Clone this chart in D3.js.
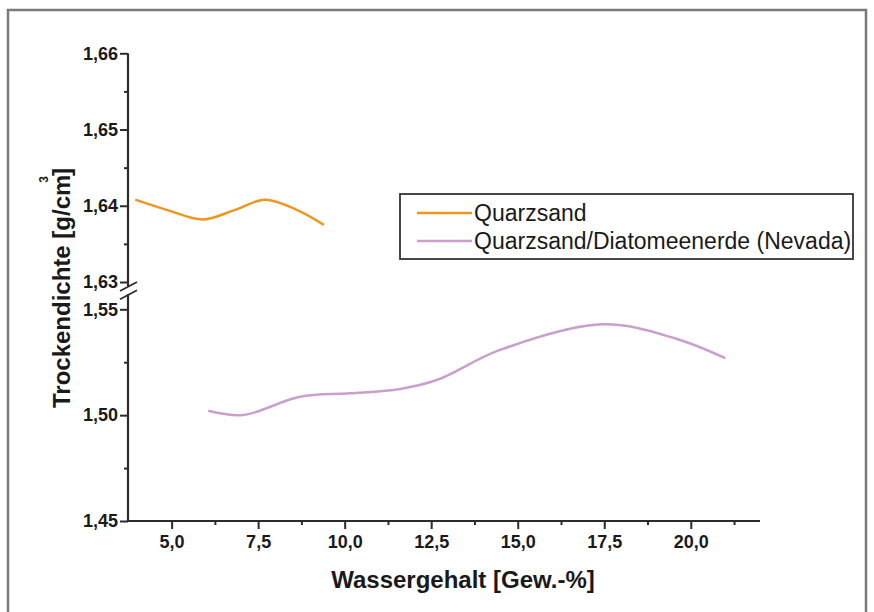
<!DOCTYPE html>
<html>
<head>
<meta charset="utf-8">
<script src="https://cdn.jsdelivr.net/npm/d3@7"></script>
<style>
  body { margin: 0; background: #fff; }
  text { font-family: "Liberation Sans", Arial, sans-serif; }
</style>
</head>
<body>
<div id="canvas"></div>
<script>
// values
var xMajor = [5, 7.5, 10, 12.5, 15, 17.5, 20];
var xMinor = [6.25, 8.75, 11.25, 13.75, 16.25, 18.75, 21.25];
var yTopMajor = [1.63, 1.64, 1.65, 1.66];
var yTopMinor = [1.635, 1.645, 1.655];
var yBotMajor = [1.45, 1.50, 1.55];
var yBotMinor = [1.475, 1.525];

var quarzX = [3.95, 4.9, 5.9, 6.8, 7.7, 8.6, 9.4];
var quarzY = [1.6408, 1.6394, 1.6382, 1.6394, 1.6408, 1.6395, 1.6375];

var diatX = [6.06, 7.07, 8.71, 10.16, 11.6, 12.66, 14.49, 17.47, 19.6, 21.0];
var diatY = [1.5021, 1.5001, 1.5087, 1.5103, 1.5124, 1.5166, 1.5308, 1.5429, 1.5360, 1.5269];

var seriesNames = ['Quarzsand', 'Quarzsand/Diatomeenerde (Nevada)'];
var seriesColors = ['#f0961e', '#c9a0cc'];

var W = 874, H = 612;
var svg = d3.select('#canvas').append('svg').attr('width', W).attr('height', H);

// outer frame (bottom runs off the picture)
svg.append('path').attr('d', 'M8,612V10H866V612').attr('fill', 'none')
  .attr('stroke', '#7a7a7a').attr('stroke-width', 2.5);

var de = d3.formatLocale({decimal: ',', thousands: '.', grouping: [3], currency: ['', '€']});

var x = d3.scaleLinear().domain([3.74, 22]).range([128, 760]);
var yTop = d3.scaleLinear().domain([1.63, 1.66]).range([282, 53.3]);
var yBot = d3.scaleLinear().domain([1.45, 1.55]).range([521, 309.3]);

var axisCol = '#2b2b2b';
var g = svg.append('g');

// y axis line, broken between the two segments
g.append('line').attr('x1', 128).attr('x2', 128).attr('y1', yTop(1.66)).attr('y2', yTop(1.63) + 4)
  .attr('stroke', axisCol).attr('stroke-width', 2.2);
g.append('line').attr('x1', 128).attr('x2', 128).attr('y1', yBot(1.55) - 15).attr('y2', yBot(1.45))
  .attr('stroke', axisCol).attr('stroke-width', 2.2);
[yTop(1.63) + 4, yBot(1.55) - 15].forEach(function(yy){
  g.append('line').attr('x1', 120).attr('x2', 137).attr('y1', yy + 5).attr('y2', yy - 4)
    .attr('stroke', axisCol).attr('stroke-width', 1.8);
});

// x axis line
g.append('line').attr('x1', x.range()[0]).attr('x2', x.range()[1]).attr('y1', 521).attr('y2', 521)
  .attr('stroke', axisCol).attr('stroke-width', 2.2);

function styleAxis(sel, fs){
  sel.select('.domain').remove();
  sel.selectAll('line').attr('stroke', axisCol).attr('stroke-width', 2);
  sel.selectAll('text').attr('fill', '#1a1a1a').attr('font-size', fs).attr('font-weight', 'bold')
    .attr('font-family', '"Liberation Sans", Arial, sans-serif');
}

var fmt = de.format('.2f');
g.append('g').attr('transform', 'translate(128,0)')
  .call(d3.axisLeft(yTop).tickValues(yTopMajor).tickSize(8).tickPadding(2).tickFormat(fmt))
  .call(styleAxis, 18);
g.append('g').attr('transform', 'translate(128,0)')
  .call(d3.axisLeft(yTop).tickValues(yTopMinor).tickSize(4).tickFormat(''))
  .call(styleAxis, 18);
g.append('g').attr('transform', 'translate(128,0)')
  .call(d3.axisLeft(yBot).tickValues(yBotMajor).tickSize(8).tickPadding(2).tickFormat(fmt))
  .call(styleAxis, 18);
g.append('g').attr('transform', 'translate(128,0)')
  .call(d3.axisLeft(yBot).tickValues(yBotMinor).tickSize(4).tickFormat(''))
  .call(styleAxis, 18);

g.append('g').attr('transform', 'translate(0,521)')
  .call(d3.axisBottom(x).tickValues(xMajor).tickSize(8).tickPadding(6).tickFormat(de.format('.1f')))
  .call(styleAxis, 18);
g.append('g').attr('transform', 'translate(0,521)')
  .call(d3.axisBottom(x).tickValues(xMinor).tickSize(4).tickFormat(''))
  .call(styleAxis, 18);

// axis titles
svg.append('text').attr('x', 463).attr('y', 588).attr('text-anchor', 'middle')
  .attr('font-size', 24).attr('font-weight', 'bold').attr('fill', '#1a1a1a')
  .text('Wassergehalt [Gew.-%]');

var yt = svg.append('text').attr('transform', 'translate(70,288) rotate(-90)')
  .attr('text-anchor', 'middle').attr('font-size', 24).attr('font-weight', 'bold').attr('fill', '#1a1a1a');
yt.append('tspan').text('Trockendichte [g/cm');
yt.append('tspan').attr('font-size', 12).attr('dx', -8).attr('dy', -22).text('3');
yt.append('tspan').attr('dy', 22).text(']');

// curves
var lineTop = d3.line().x(function(d){ return x(d[0]); }).y(function(d){ return yTop(d[1]); })
  .curve(d3.curveCatmullRom.alpha(0.5));
var lineBot = d3.line().x(function(d){ return x(d[0]); }).y(function(d){ return yBot(d[1]); })
  .curve(d3.curveCatmullRom.alpha(0.5));

svg.append('path').datum(d3.zip(quarzX, quarzY)).attr('d', lineTop)
  .attr('fill', 'none').attr('stroke', seriesColors[0]).attr('stroke-width', 2.5);
svg.append('path').datum(d3.zip(diatX, diatY)).attr('d', lineBot)
  .attr('fill', 'none').attr('stroke', seriesColors[1]).attr('stroke-width', 2.5);

// legend
var leg = svg.append('g').attr('transform', 'translate(400,194)');
leg.append('rect').attr('width', 453).attr('height', 65).attr('fill', '#fff')
  .attr('stroke', '#333').attr('stroke-width', 1.8);
seriesNames.forEach(function(name, i){
  var yy = 19 + i * 28;
  leg.append('line').attr('x1', 17).attr('x2', 72).attr('y1', yy).attr('y2', yy)
    .attr('stroke', seriesColors[i]).attr('stroke-width', 2.5);
  leg.append('text').attr('x', 74).attr('y', yy + 8).attr('font-size', 23).attr('fill', '#1a1a1a')
    .text(name);
});
</script>
</body>
</html>
